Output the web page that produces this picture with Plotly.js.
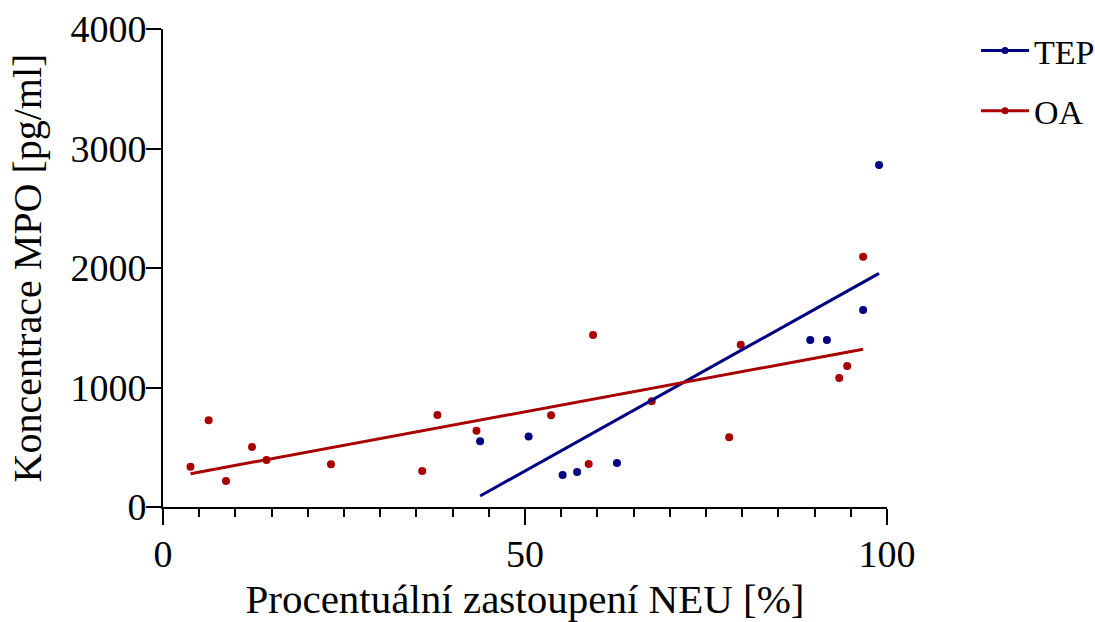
<!DOCTYPE html>
<html>
<head>
<meta charset="utf-8">
<script src="https://cdn.plot.ly/plotly-3.0.1.min.js"></script>
<style>html,body{margin:0;padding:0;background:#fff;}#chart{width:1095px;height:622px;}</style>
</head>
<body>
<div id="chart"></div>
<script>
// TEP scatter points
const tepX = [43.8, 50.5, 55.2, 57.2, 62.7, 89.4, 91.7, 96.7, 98.9];
const tepY = [550, 591, 268, 293, 368, 1397, 1397, 1648, 2862];
// OA scatter points
const oaX = [3.8, 6.3, 8.7, 12.3, 14.3, 23.2, 35.8, 37.9, 43.3, 53.6, 58.8, 59.4, 67.5, 78.2, 79.8, 93.4, 94.5, 96.7];
const oaY = [337, 725, 217, 502, 393, 357, 301, 770, 639, 767, 360, 1439, 884, 583, 1358, 1080, 1180, 2095];
// Fitted lines (endpoints)
const tepFitX = [43.8, 98.9];
const tepFitY = [92, 1955];
const oaFitX = [3.8, 96.7];
const oaFitY = [279, 1320];
const seriesNames = ['TEP', 'OA'];
const xTickVals = [0, 50, 100];
const yTickVals = [0, 1000, 2000, 3000, 4000];

const blue = '#000080';
const red = '#A80000';
const font = '"Liberation Serif"';

const traces = [
  {x: tepX, y: tepY, mode: 'markers', type: 'scatter', marker: {color: blue, size: 8}, showlegend: false, hoverinfo: 'x+y'},
  {x: oaX, y: oaY, mode: 'markers', type: 'scatter', marker: {color: red, size: 8}, showlegend: false, hoverinfo: 'x+y'},
  {x: tepFitX, y: tepFitY, mode: 'lines', type: 'scatter', line: {color: blue, width: 3}, showlegend: false},
  {x: oaFitX, y: oaFitY, mode: 'lines', type: 'scatter', line: {color: red, width: 3}, showlegend: false},
  {x: [null], y: [null], mode: 'lines+markers', type: 'scatter', name: seriesNames[0], legendgroup: 'a',
   line: {color: blue, width: 3}, marker: {color: blue, size: 7}},
  {x: [null], y: [null], mode: 'lines+markers', type: 'scatter', name: seriesNames[1], legendgroup: 'b',
   line: {color: red, width: 3}, marker: {color: red, size: 7}}
];

const layout = {
  width: 1095, height: 622,
  margin: {l: 163, r: 208, t: 29, b: 115, pad: 0, autoexpand: false},
  paper_bgcolor: '#fff', plot_bgcolor: '#fff',
  font: {family: font, size: 38, color: '#000'},
  showlegend: true,
  legend: {x: 1.123, xanchor: 'left', y: 1.015, yanchor: 'top', traceorder: 'grouped', tracegroupgap: 13,
           itemwidth: 48,
           font: {family: font, size: 34, color: '#000'}, bgcolor: 'rgba(0,0,0,0)'},
  xaxis: {
    range: [0, 100], tickvals: xTickVals, ticktext: xTickVals.map(String), automargin: false,
    showgrid: false, zeroline: false, showline: true, linecolor: '#000', linewidth: 2,
    ticks: 'outside', ticklen: 16, tickwidth: 2, tickcolor: '#000', ticklabelstandoff: -4,
    minor: {dtick: 5, tick0: 0, ticks: 'outside', ticklen: 8, tickwidth: 2, tickcolor: '#000', showgrid: false},
    tickfont: {family: font, size: 38, color: '#000'},
    title: {text: 'Procentuální zastoupení NEU [%]', font: {family: font, size: 41, color: '#000'}, standoff: 17}
  },
  yaxis: {
    range: [0, 4000], tickvals: yTickVals, ticktext: yTickVals.map(String), automargin: false,
    showgrid: false, zeroline: false, showline: true, linecolor: '#000', linewidth: 2,
    ticks: 'outside', ticklen: 15, tickwidth: 2, tickcolor: '#000', ticklabelstandoff: -8,
    tickfont: {family: font, size: 38, color: '#000'},
    title: {text: 'Koncentrace MPO [pg/ml]', font: {family: font, size: 40, color: '#000'}, standoff: 16}
  }
};

Plotly.newPlot('chart', traces, layout, {displayModeBar: false, staticPlot: true});
</script>
</body>
</html>
